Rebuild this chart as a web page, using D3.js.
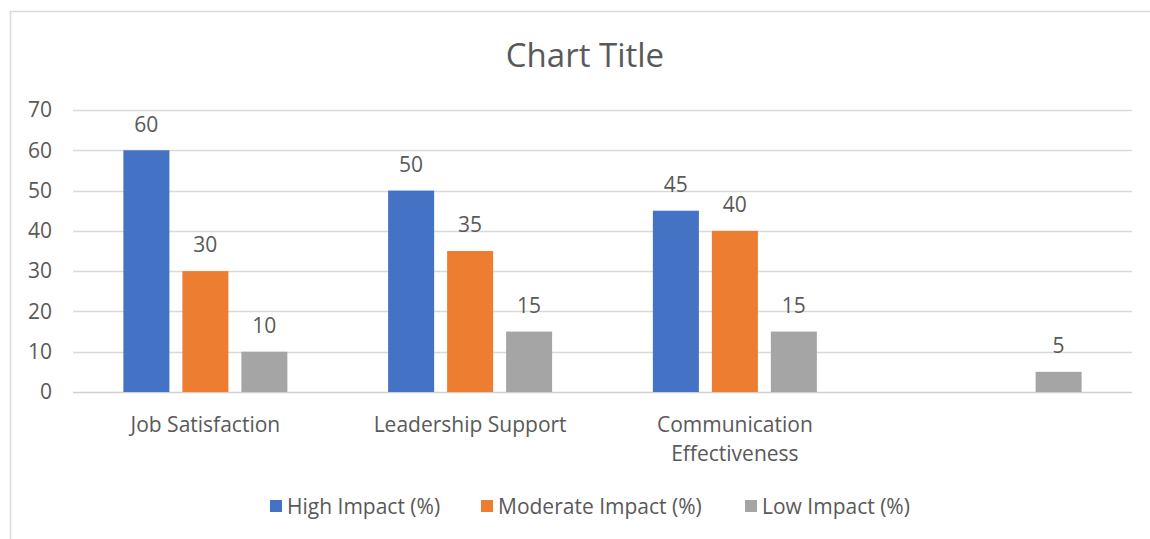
<!DOCTYPE html>
<html><head><meta charset="utf-8">
<script src="https://cdn.jsdelivr.net/npm/d3@7"></script>
<style>body{margin:0;background:#fff}svg{display:block}text{font-family:"Open Sans",sans-serif;fill:#595959}</style>
</head><body>
<script>
const categories = ["Job Satisfaction","Leadership Support","Communication Effectiveness",""];
const seriesNames = ["High Impact (%)","Moderate Impact (%)","Low Impact (%)"];
const highImpact = [60,50,45,null];
const moderateImpact = [30,35,40,null];
const lowImpact = [10,15,15,5];
const yTicks = [0,10,20,30,40,50,60,70];
const colors = ["#4472C4","#ED7D31","#A5A5A5"];
const seriesValues = [highImpact, moderateImpact, lowImpact];

const W=1150,H=539;
const FS=21;
const svg=d3.select("body").append("svg").attr("width",W).attr("height",H);
svg.append("rect").attr("x",10.5).attr("y",11.5).attr("width",1160).attr("height",560)
  .attr("fill","#fff").attr("stroke","#d9d9d9").attr("stroke-width",1.5);

const x0=d3.scaleBand().domain(d3.range(categories.length)).range([73,1132]);
const y=d3.scaleLinear().domain([0,70]).range([392,110]);
const groupW=164;
const x1=d3.scaleBand().domain(d3.range(3)).range([0,groupW]).paddingInner(0.22);

svg.append("text").attr("x",585).attr("y",55).attr("dy","0.35em").attr("text-anchor","middle").attr("font-size",33).text("Chart Title");

const g=svg.append("g");
g.selectAll("line.grid").data(yTicks).join("line").attr("class","grid")
  .attr("x1",73).attr("x2",1132).attr("y1",d=>Math.round(y(d))+0.5).attr("y2",d=>Math.round(y(d))+0.5)
  .attr("stroke",d=>d===0?"#d0d0d0":"#d9d9d9").attr("stroke-width",1.5);
g.selectAll("text.yt").data(yTicks).join("text").attr("class","yt")
  .attr("x",52).attr("y",d=>y(d)).attr("dy","0.35em").attr("text-anchor","end").attr("font-size",FS).text(d=>d);

const data=[];
categories.forEach((c,i)=>seriesValues.forEach((s,j)=>{ if(s[i]!=null) data.push({i,j,v:s[i]}); }));
const bx=d=>x0(d.i)+(x0.bandwidth()-groupW)/2+x1(d.j);
g.selectAll("rect.bar").data(data).join("rect").attr("class","bar")
  .attr("x",bx).attr("width",x1.bandwidth()).attr("y",d=>y(d.v)).attr("height",d=>y(0)-y(d.v))
  .attr("fill",d=>colors[d.j]);
g.selectAll("text.lbl").data(data).join("text").attr("class","lbl")
  .attr("x",d=>bx(d)+x1.bandwidth()/2).attr("y",d=>y(d.v)-26).attr("dy","0.35em").attr("text-anchor","middle").attr("font-size",FS).text(d=>d.v);

// category labels
const catLines=[["Job Satisfaction"],["Leadership Support"],["Communication","Effectiveness"],[]];
categories.forEach((c,i)=>{
  const t=g.append("text").attr("x",x0(i)+x0.bandwidth()/2).attr("y",425).attr("text-anchor","middle").attr("font-size",FS);
  catLines[i].forEach((ln,k)=>t.append("tspan").attr("x",x0(i)+x0.bandwidth()/2).attr("dy",k?29:"0.35em").text(ln));
});

// legend
const legX=[270,481,745];
seriesNames.forEach((n,j)=>{
  svg.append("rect").attr("x",legX[j]).attr("y",500).attr("width",12).attr("height",12).attr("fill",colors[j]);
  svg.append("text").attr("x",legX[j]+17).attr("y",507).attr("dy","0.35em").attr("font-size",FS).text(n);
});
</script>
</body></html>
